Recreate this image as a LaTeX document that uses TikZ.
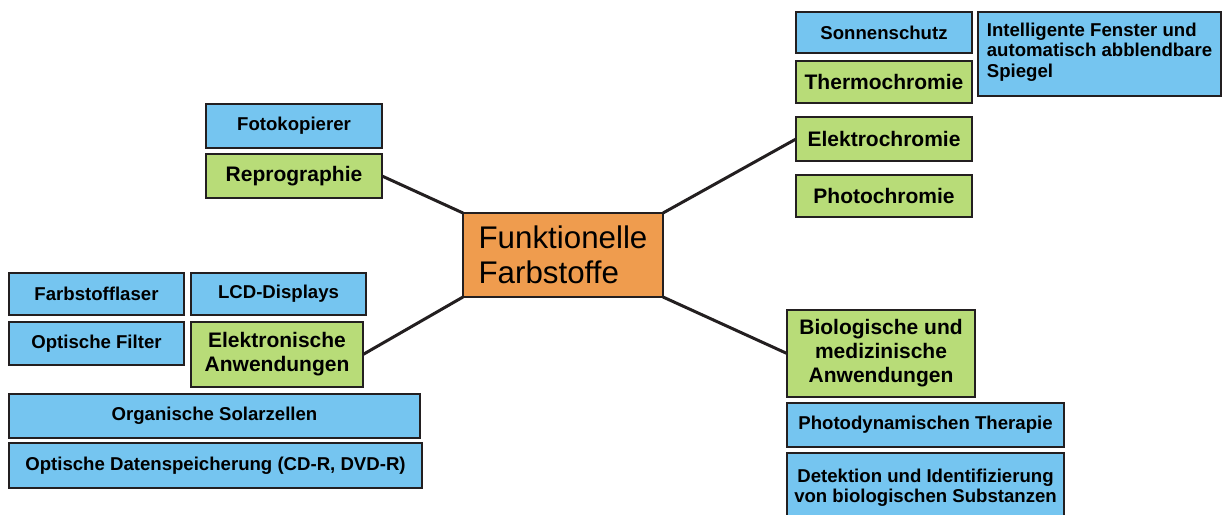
\documentclass[tikz,border=0pt]{standalone}
\usepackage{fontspec}
\setmainfont{Liberation Sans}
\definecolor{boxblue}{RGB}{117,197,240}
\definecolor{boxgreen}{RGB}{184,220,120}
\definecolor{boxorange}{RGB}{239,156,78}
\definecolor{bordercol}{RGB}{35,31,32}
\tikzset{
  box/.style={draw=bordercol, line width=2.6pt, inner sep=0pt, outer sep=0pt, anchor=north west, align=center,
    font=\bfseries\fontsize{18.6}{20.5}\selectfont},
  bluebox/.style={box, fill=boxblue},
  greenbox/.style={box, fill=boxgreen, font=\bfseries\fontsize{21}{24}\selectfont},
  centerbox/.style={box, fill=boxorange, align=left, font=\fontsize{31.3}{35}\selectfont},
  link/.style={draw=bordercol, line width=3pt},
}
\newcommand{\bx}[7]{\node[#1, minimum width={(#5-#3)*1pt}, minimum height={(#6-#4)*1pt}] (#2) at (#3,#4) {#7};}
\begin{document}
\begin{tikzpicture}[x=1pt,y=-1pt]
\useasboundingbox (0,0) rectangle (1222,514);
\bx{bluebox}{foto}{206}{104}{382}{148}{Fotokopierer}
\bx{greenbox}{repro}{206}{154}{382}{198}{Reprographie}
\bx{bluebox}{sonne}{796}{12}{972}{53}{Sonnenschutz}
\bx{bluebox,align=left,text depth=8pt}{intel}{978}{12}{1221}{96}{Intelligente Fenster und\\automatisch abblendbare\\Spiegel}
\bx{greenbox}{thermo}{796}{61}{972}{103}{Thermochromie}
\bx{greenbox}{elektro}{796}{117}{972}{161}{Elektrochromie}
\bx{greenbox}{photo}{796}{175}{972}{217}{Photochromie}
\bx{bluebox}{laser}{9}{273}{184}{315}{Farbstofflaser}
\bx{bluebox}{lcd}{191}{273}{366}{315}{LCD-Displays}
\bx{bluebox}{filter}{9}{322}{184}{365}{Optische Filter}
\bx{greenbox}{elektron}{191}{322}{363}{387}{Elektronische\\Anwendungen}
\bx{bluebox}{solar}{9}{394}{420}{438}{Organische Solarzellen}
\bx{bluebox}{daten}{9}{443}{422}{488}{Optische Datenspeicherung (CD-R, DVD-R)}
\bx{greenbox}{bio}{787}{310}{975}{397}{Biologische und\\medizinische\\Anwendungen}
\bx{bluebox}{photodyn}{787}{403}{1064}{447}{Photodynamischen Therapie}
\bx{bluebox}{detekt}{787}{453}{1064}{522}{Detektion und Identifizierung\\von biologischen Substanzen}
\bx{centerbox}{center}{463}{213}{663}{297}{Funktionelle\\Farbstoffe}
\draw[link] (repro.east) -- (center.north west);
\draw[link] (center.north east) -- (elektro.west);
\draw[link] (center.south west) -- (elektron.east);
\draw[link] (center.south east) -- (bio.west);
\end{tikzpicture}
\end{document}
